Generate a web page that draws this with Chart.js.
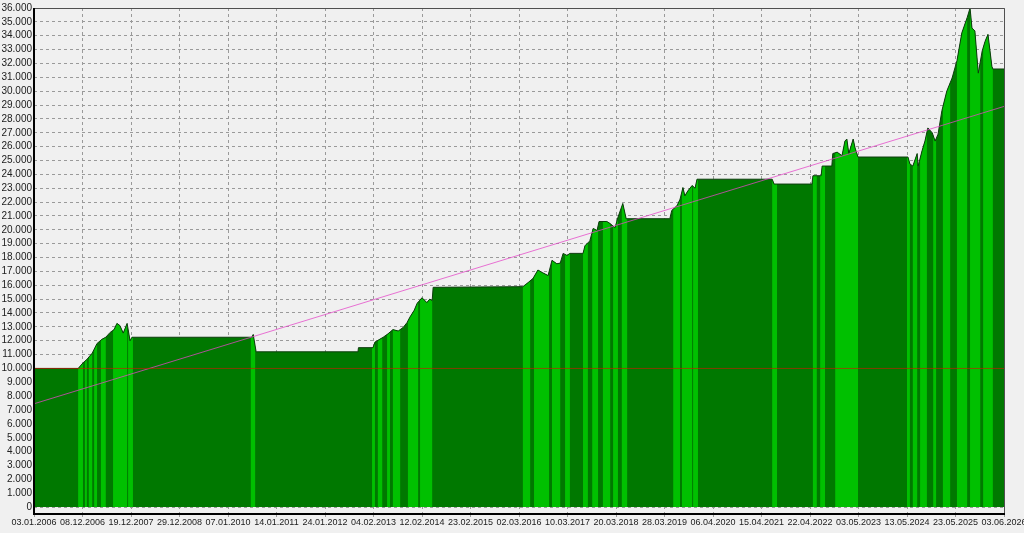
<!DOCTYPE html>
<html>
<head>
<meta charset="utf-8">
<script src="https://cdn.jsdelivr.net/npm/chart.js@4.4.1/dist/chart.umd.min.js"></script>
<style>
  html, body { margin: 0; padding: 0; background: #f0f0f0; }
</style>
</head>
<body>
<canvas id="equityChart" width="1024" height="533"></canvas>
<script>
// x axis: one unit per date label
const dateLabels = [
  '03.01.2006', '08.12.2006', '19.12.2007', '29.12.2008', '07.01.2010',
  '14.01.2011', '24.01.2012', '04.02.2013', '12.02.2014', '23.02.2015',
  '02.03.2016', '10.03.2017', '20.03.2018', '28.03.2019', '06.04.2020',
  '15.04.2021', '22.04.2022', '03.05.2023', '13.05.2024', '23.05.2025',
  '03.06.2026'
];

// equity curve
const equityX = [
  0.00, 0.91, 1.01, 1.09, 1.20, 1.30, 1.40, 1.48, 1.57, 1.65,
  1.71, 1.77, 1.84, 1.92, 1.98, 2.02, 4.49, 4.52, 4.58, 6.68,
  6.69, 6.99, 7.03, 7.20, 7.30, 7.40, 7.51, 7.61, 7.69, 7.75,
  7.84, 7.90, 8.00, 8.10, 8.16, 8.21, 8.23, 10.08, 10.19, 10.29,
  10.39, 10.49, 10.60, 10.68, 10.78, 10.85, 10.91, 10.99, 11.05, 11.32,
  11.36, 11.46, 11.53, 11.61, 11.65, 11.81, 11.88, 11.98, 12.04, 12.14,
  12.21, 13.11, 13.15, 13.26, 13.32, 13.38, 13.42, 13.48, 13.57, 13.63,
  13.67, 15.22, 15.26, 16.04, 16.06, 16.23, 16.25, 16.45, 16.47, 16.56,
  16.66, 16.72, 16.76, 16.80, 16.89, 16.93, 16.99, 18.02, 18.06, 18.12,
  18.21, 18.23, 18.31, 18.37, 18.43, 18.52, 18.58, 18.64, 18.72, 18.82,
  18.93, 19.03, 19.13, 19.24, 19.30, 19.34, 19.40, 19.47, 19.55, 19.61,
  19.67, 19.75, 19.77, 20.00
];
const equityY = [
  10000, 10000, 10400, 10650, 11100, 11800, 12100, 12250, 12600, 12800,
  13250, 13100, 12550, 13250, 12000, 12250, 12250, 12450, 11200, 11200,
  11500, 11500, 11900, 12250, 12500, 12800, 12700, 12950, 13300, 13700,
  14200, 14700, 15100, 14750, 15000, 14900, 15850, 15900, 16200, 16500,
  17100, 16900, 16700, 17800, 17550, 17600, 18300, 18150, 18300, 18300,
  18850, 19200, 20100, 19950, 20600, 20600, 20450, 20150, 20900, 21900,
  20800, 20800, 21400, 21750, 22200, 23050, 22450, 22800, 23200, 23000,
  23650, 23650, 23300, 23300, 23900, 23900, 24600, 24600, 25500, 25600,
  25350, 26400, 26550, 25500, 26550, 25900, 25250, 25250, 24750, 24600,
  25500, 24600, 25700, 26400, 27350, 27000, 26400, 26900, 28600, 30000,
  30950, 32200, 34200, 35300, 36000, 34550, 34350, 31300, 32900, 33600,
  34100, 31800, 31600, 31600
];

// periods with open positions (light green)
const bandStart = [
  0.91, 1.05, 1.13, 1.24, 1.38, 1.63, 1.94, 4.47, 6.97, 7.09,
  7.28, 7.40, 7.71, 7.96, 10.08, 10.31, 10.68, 10.95, 11.32, 11.51,
  11.73, 11.94, 12.12, 13.18, 13.36, 13.59, 15.22, 16.06, 16.21, 16.52,
  18.00, 18.12, 18.27, 18.54, 18.74, 19.03, 19.30, 19.57
];
const bandEnd = [
  1.01, 1.09, 1.20, 1.30, 1.48, 1.92, 2.04, 4.56, 7.03, 7.18,
  7.34, 7.55, 7.92, 8.21, 10.23, 10.62, 10.85, 11.05, 11.42, 11.63,
  11.88, 12.04, 12.23, 13.32, 13.57, 13.69, 15.32, 16.14, 16.31, 16.99,
  18.06, 18.21, 18.41, 18.60, 18.89, 19.24, 19.51, 19.77
];

const startBalance = [10000, 10000];
const trendLine = [7450, 28900];

const yMin = -500;
const yMax = 36000;
const yStep = 1000;

function fmtThousands(v) {
  return String(v).replace(/\B(?=(\d{3})+(?!\d))/g, '.');
}

const equityPoints = equityX.map((x, i) => ({ x, y: equityY[i] }));
const lastX = dateLabels.length - 1;

const testerPlugin = {
  id: 'tester',
  beforeDraw(chart) {
    const { ctx, width, height } = chart;
    ctx.save();
    ctx.fillStyle = '#f0f0f0';
    ctx.fillRect(0, 0, width, height);
    ctx.restore();
  },
  afterDatasetDraw(chart, args) {
    if (args.index !== 0) return;
    const { ctx, chartArea, scales: { x, y } } = chart;
    const pts = args.meta.data;
    const zero = y.getPixelForValue(0);
    ctx.save();
    ctx.beginPath();
    ctx.moveTo(pts[0].x, zero);
    pts.forEach(p => ctx.lineTo(p.x, p.y));
    ctx.lineTo(pts[pts.length - 1].x, zero);
    ctx.closePath();
    ctx.clip();
    ctx.fillStyle = '#00c000';
    bandStart.forEach((s, i) => {
      const x1 = x.getPixelForValue(s);
      const x2 = x.getPixelForValue(bandEnd[i]);
      ctx.fillRect(x1, chartArea.top, x2 - x1, zero - chartArea.top);
    });
    ctx.restore();
  },
  afterDraw(chart) {
    const { ctx, chartArea: a } = chart;
    ctx.save();
    ctx.strokeStyle = '#505050';
    ctx.lineWidth = 1;
    ctx.beginPath();
    ctx.moveTo(a.left, a.top + 0.5);
    ctx.lineTo(a.right + 0.5, a.top + 0.5);
    ctx.lineTo(a.right + 0.5, a.bottom);
    ctx.stroke();
    ctx.strokeStyle = '#000';
    ctx.lineWidth = 2;
    ctx.beginPath();
    ctx.moveTo(a.left, a.top);
    ctx.lineTo(a.left, a.bottom);
    ctx.lineTo(a.right + 1, a.bottom);
    ctx.stroke();
    ctx.restore();
  }
};

new Chart(document.getElementById('equityChart'), {
  type: 'line',
  data: {
    datasets: [
      {
        data: equityPoints,
        order: 4,
        fill: 'origin',
        backgroundColor: '#007800',
        borderWidth: 0,
        pointRadius: 0,
        tension: 0,
      },
      {
        data: equityPoints,
        order: 3,
        fill: false,
        borderColor: '#0d3d0d',
        borderWidth: 1,
        pointRadius: 0,
        tension: 0,
      },
      {
        data: [{ x: 0, y: trendLine[0] }, { x: lastX, y: trendLine[1] }],
        order: 2,
        fill: false,
        borderColor: 'rgba(228, 70, 200, 0.75)',
        borderWidth: 1,
        pointRadius: 0,
      },
      {
        data: [{ x: 0, y: startBalance[0] }, { x: lastX, y: startBalance[1] }],
        order: 1,
        fill: false,
        borderColor: 'rgba(200, 30, 0, 0.65)',
        borderWidth: 1,
        pointRadius: 0,
      },
    ],
  },
  options: {
    responsive: false,
    animation: false,
    layout: { padding: { top: 7, right: 0, left: 0, bottom: 0 } },
    plugins: {
      legend: { display: false },
      tooltip: { enabled: false },
    },
    scales: {
      x: {
        type: 'linear',
        min: 0,
        max: lastX,
        afterBuildTicks: (s) => { s.ticks = dateLabels.map((_, i) => ({ value: i })); },
        afterFit: (s) => {
          s.height = 19;
          s.paddingLeft = 0;
          s.paddingRight = 20;
        },
        grid: { color: '#9a9a9a', lineWidth: 1, drawTicks: true, tickLength: 3 },
        border: { display: false, dash: [3, 3] },
        ticks: {
          autoSkip: false,
          maxRotation: 0,
          padding: 0,
          color: '#202020',
          font: { family: '"Liberation Sans Narrow", "Arial Narrow", "Liberation Sans", Arial, sans-serif', size: 9 },
          callback: (v) => dateLabels[v] ?? '',
        },
      },
      y: {
        min: yMin,
        max: yMax,
        afterBuildTicks: (s) => {
          const t = [];
          for (let v = 0; v <= yMax; v += yStep) t.push({ value: v });
          s.ticks = t;
        },
        afterFit: (s) => { s.width = 34; },
        grid: { color: '#9a9a9a', lineWidth: 1, drawTicks: false },
        border: { display: false, dash: [3, 3] },
        ticks: {
          autoSkip: false,
          padding: 2,
          color: '#202020',
          font: { family: '"Liberation Sans", Arial, sans-serif', size: 10 },
          callback: (v) => fmtThousands(v),
        },
      },
    },
  },
  plugins: [testerPlugin],
});
</script>
</body>
</html>
